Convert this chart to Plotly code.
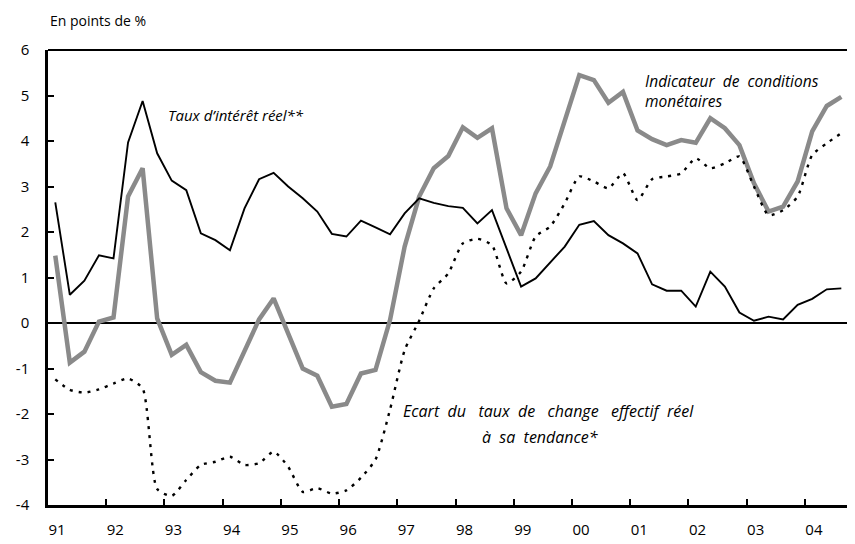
import plotly.graph_objects as go

# quarterly data 1991Q1 .. 2004Q3
start_year = 1991
n_quarters = 55
x_years = [start_year + 0.125 + 0.25 * i for i in range(n_quarters)]

taux_reel = [2.65, 0.62, 0.93, 1.49, 1.42, 3.97, 4.88, 3.73, 3.13, 2.92,
             1.97, 1.82, 1.60, 2.52, 3.16, 3.30, 3.00, 2.74, 2.45, 1.96,
             1.90, 2.25, 2.10, 1.95, 2.41, 2.74, 2.64, 2.57, 2.53, 2.19,
             2.48, 1.64, 0.80, 0.98, 1.33, 1.68, 2.16, 2.24, 1.93, 1.75,
             1.53, 0.85, 0.71, 0.71, 0.36, 1.13, 0.80, 0.23, 0.05, 0.14,
             0.08, 0.40, 0.53, 0.74, 0.76]

icm = [1.48, -0.87, -0.63, 0.03, 0.12, 2.78, 3.40, 0.10, -0.70, -0.48,
       -1.08, -1.27, -1.31, -0.59, 0.08, 0.54, -0.23, -1.00, -1.16, -1.84,
       -1.78, -1.11, -1.03, 0.07, 1.68, 2.78, 3.40, 3.67, 4.30, 4.07,
       4.28, 2.52, 1.93, 2.85, 3.44, 4.46, 5.45, 5.34, 4.84, 5.08,
       4.23, 4.04, 3.91, 4.02, 3.96, 4.50, 4.28, 3.91, 3.07, 2.45,
       2.56, 3.11, 4.21, 4.77, 4.97]

ecart = [-1.24, -1.47, -1.53, -1.46, -1.33, -1.22, -1.44, -3.65, -3.80, -3.45,
         -3.12, -3.05, -2.94, -3.12, -3.08, -2.83, -3.16, -3.71, -3.63, -3.75,
         -3.68, -3.40, -3.00, -1.90, -0.60, 0.05, 0.76, 1.09, 1.75, 1.85,
         1.71, 0.87, 1.13, 1.90, 2.12, 2.63, 3.22, 3.11, 2.96, 3.29,
         2.70, 3.16, 3.22, 3.29, 3.62, 3.40, 3.51, 3.66, 3.00, 2.37,
         2.48, 2.78, 3.69, 3.95, 4.17]

year_ticks = list(range(1991, 2005))
year_labels = ["91", "92", "93", "94", "95", "96", "97", "98", "99", "00",
               "01", "02", "03", "04"]
y_ticks = [6, 5, 4, 3, 2, 1, 0, -1, -2, -3, -4]
y_labels = ["6", "5", "4", "3", "2", "1", "0", "-1", "-2", "-3", "-4"]

FONT = "'Open Sans', Lato, sans-serif"

fig = go.Figure()
fig.add_trace(go.Scatter(x=x_years, y=icm, mode="lines",
                         line=dict(color="#8a8a8a", width=4.5),
                         name="Indicateur de conditions monétaires"))
fig.add_trace(go.Scatter(x=x_years, y=ecart, mode="lines",
                         line=dict(color="black", width=2.4, dash="3px,6px",
                                   shape="spline", smoothing=0.6),
                         name="Ecart du taux de change effectif réel à sa tendance*"))
fig.add_trace(go.Scatter(x=x_years, y=taux_reel, mode="lines",
                         line=dict(color="black", width=1.9),
                         name="Taux d'intérêt réel**"))

fig.update_layout(
    width=855, height=544,
    margin=dict(l=35, r=8, t=42, b=47),
    paper_bgcolor="white", plot_bgcolor="white",
    showlegend=False,
    font=dict(family=FONT, size=15, color="black"),
)
fig.update_xaxes(
    range=[1991, 2004.86], tickvals=year_ticks, ticktext=year_labels,
    ticks="inside", ticklen=6, tickwidth=2, tickcolor="black",
    showline=True, linecolor="black", linewidth=2.5,
    showgrid=False, zeroline=False,
    ticklabelshift=9, ticklabelstandoff=9,
    tickfont=dict(family=FONT, size=15),
)
fig.update_yaxes(
    range=[-4, 6], tickvals=y_ticks, ticktext=y_labels,
    ticks="inside", ticklen=6, tickwidth=2, tickcolor="black",
    showline=True, linecolor="black", linewidth=2.5,
    showgrid=False, zeroline=True, zerolinecolor="black", zerolinewidth=1.5,
    ticklabelstandoff=13,
    tickfont=dict(family=FONT, size=15),
)
# top border
fig.add_shape(type="line", xref="paper", yref="paper", x0=0, x1=1.02, y0=1, y1=1,
              line=dict(color="black", width=2))

fig.add_annotation(text="En points de %", xref="paper", yref="paper",
                   x=0.0, y=1, yshift=30, xanchor="left", yanchor="middle",
                   showarrow=False, font=dict(family=FONT, size=14))
ann_font = dict(family=FONT, size=16)
fig.add_annotation(text="<i>Taux d’intérêt réel**</i>", x=1993.03, y=4.57,
                   xanchor="left", yanchor="middle", showarrow=False,
                   font=dict(family=FONT, size=15))
fig.add_annotation(text="<i>Indicateur  de  conditions<br>monétaires</i>", x=2001.22, y=5.09,
                   xanchor="left", yanchor="middle", align="left", showarrow=False,
                   font=dict(family=FONT, size=15.5))
fig.add_annotation(text="<i>Ecart  du   taux  de   change   effectif  réel</i>", x=1999.6, y=-1.93,
                   xanchor="center", yanchor="middle", showarrow=False, font=ann_font)
fig.add_annotation(text="<i>à  sa  tendance*</i>", x=1999.45, y=-2.51,
                   xanchor="center", yanchor="middle", showarrow=False, font=ann_font)

fig.write_html("out.html")
